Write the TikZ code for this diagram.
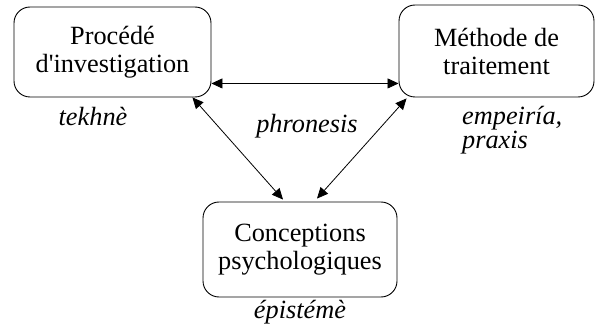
\documentclass[tikz,border=0pt]{standalone}
\usepackage{fontspec}
\setmainfont{Liberation Serif}
\usetikzlibrary{arrows.meta,calc}
\begin{document}
\begin{tikzpicture}[x=1pt,y=1pt,
  box/.style={draw,line width=0.9pt,rounded corners=16pt,align=center,inner sep=0pt,
    font=\fontsize{26.3}{28}\selectfont},
  lab/.style={font=\fontsize{26.3}{24}\selectfont\itshape,inner sep=0pt,align=left},
  conn/.style={line width=0.8pt,{Triangle[length=11pt,width=10pt]}-{Triangle[length=11pt,width=10pt]}}]
\useasboundingbox[fill=white] (0,0) rectangle (595,327);
\node[box,minimum width=197pt,minimum height=90pt] (b1) at (112.5,275) {Procédé\\d\textquotesingle investigation};
\node[box,minimum width=195pt,minimum height=92pt] (b2) at (496.5,276) {Méthode de\\traitement};
\node[box,minimum width=194pt,minimum height=95pt] (b3) at (300,77.5) {Conceptions\\psychologiques};
\node[lab] (t1) at (93,211) {tekhnè};
\node[lab] (t2) at (307,201) {phronesis};
\node[lab,anchor=north west] (t3) at (462,221) {empeiría,\\praxis};
\node[lab] (t4) at (300,15) {épistémè};
\draw[conn] ([yshift=14pt]b1.south east) -- ([yshift=14pt]b2.south west);
\draw[conn] ([xshift=-19pt]b1.south east) -- ([xshift=-17pt,yshift=2pt]b3.north);
\draw[conn] ([xshift=8pt,yshift=-1pt]b2.south west) -- ([xshift=17pt,yshift=3pt]b3.north);
\end{tikzpicture}
\end{document}
